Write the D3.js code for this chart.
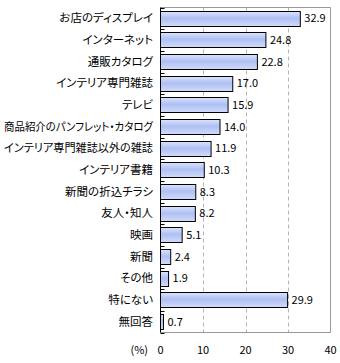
<!DOCTYPE html>
<html><head><meta charset="utf-8">
<script src="https://cdn.jsdelivr.net/npm/d3@7"></script>
<style>body{margin:0;background:#fff}svg{display:block}text{font-family:"Noto Sans CJK JP","Noto Sans",sans-serif;fill:#000}.cat{font-feature-settings:"palt" 1}</style>
</head><body><svg id="c" width="340" height="363"></svg>
<script>
const categories = ["お店のディスプレイ","インターネット","通販カタログ","インテリア専門雑誌","テレビ","商品紹介のパンフレット・カタログ","インテリア専門雑誌以外の雑誌","インテリア書籍","新聞の折込チラシ","友人・知人","映画","新聞","その他","特にない","無回答"];
const values = [32.9,24.8,22.8,17.0,15.9,14.0,11.9,10.3,8.3,8.2,5.1,2.4,1.9,29.9,0.7];
const xTicks = [0,10,20,30,40];
const unitLabel = "(%)";

const svg = d3.select("#c");
const L=160.5, R=330.5, T=7.5, B=332.5;
const x = d3.scaleLinear().domain([0,40]).range([L,R]);
const y = d3.scaleBand().domain(categories).range([T,B]).paddingInner(0.3).paddingOuter(0.15);

const defs = svg.append("defs");
const g = defs.append("linearGradient").attr("id","bg").attr("x1",0).attr("y1",0).attr("x2",0).attr("y2",1);
g.append("stop").attr("offset","0%").attr("stop-color","#dce4fb");
g.append("stop").attr("offset","45%").attr("stop-color","#aebff3");
g.append("stop").attr("offset","100%").attr("stop-color","#d2dcfa");

// gridlines
svg.append("g").selectAll("line").data(xTicks.filter(d=>d>0&&d<40)).join("line")
  .attr("x1",d=>Math.round(x(d))+0.5).attr("x2",d=>Math.round(x(d))+0.5).attr("y1",T).attr("y2",B)
  .attr("stroke","#b4b4b4").attr("stroke-dasharray","4,3");

// border (top, right, bottom)
svg.append("path").attr("d",`M${L},${T}H${R}V${B}H${L}`).attr("fill","none").attr("stroke","#999");

// bars
svg.append("g").selectAll("rect").data(values).join("rect")
  .attr("x",x(0)).attr("y",(d,i)=>Math.round(y(categories[i]))+0.5)
  .attr("width",d=>x(d)-x(0)).attr("height",Math.round(y.bandwidth()))
  .attr("fill","url(#bg)").attr("stroke","#000").attr("stroke-width",1);

// value labels
svg.append("g").selectAll("text").data(values).join("text")
  .attr("x",d=>x(d)+4).attr("y",(d,i)=>y(categories[i])+y.bandwidth()/2)
  .attr("dy","0.35em").attr("font-size",11).text(d=>d.toFixed(1));

// y axis (inward ticks at band boundaries)
const yAxis = svg.append("g");
yAxis.append("line").attr("x1",L).attr("x2",L).attr("y1",T).attr("y2",B).attr("stroke","#000");
yAxis.selectAll("line.t").data(d3.range(categories.length+1)).join("line").attr("class","t")
  .attr("x1",L).attr("x2",L+4).attr("y1",i=>Math.round(T+i*(B-T)/categories.length)+0.5).attr("y2",i=>Math.round(T+i*(B-T)/categories.length)+0.5)
  .attr("stroke","#000");
yAxis.selectAll("text").data(categories).join("text").attr("class","cat")
  .attr("x",153).attr("y",d=>y(d)+y.bandwidth()/2).attr("dy","0.35em")
  .attr("text-anchor","end").attr("font-size",11.5).text(d=>d)
  .each(function(){ const w=this.getComputedTextLength(); if(w>149){ d3.select(this).attr("textLength",149).attr("lengthAdjust","spacingAndGlyphs");} });

// x tick labels
svg.append("g").selectAll("text").data(xTicks).join("text")
  .attr("x",d=>x(d)).attr("y",350).attr("dy","0.35em").attr("text-anchor","middle")
  .attr("font-size",11).text(d=>d);
svg.append("text").attr("x",148).attr("y",350).attr("dy","0.35em").attr("text-anchor","end")
  .attr("font-size",11).text(unitLabel);
</script></body></html>
